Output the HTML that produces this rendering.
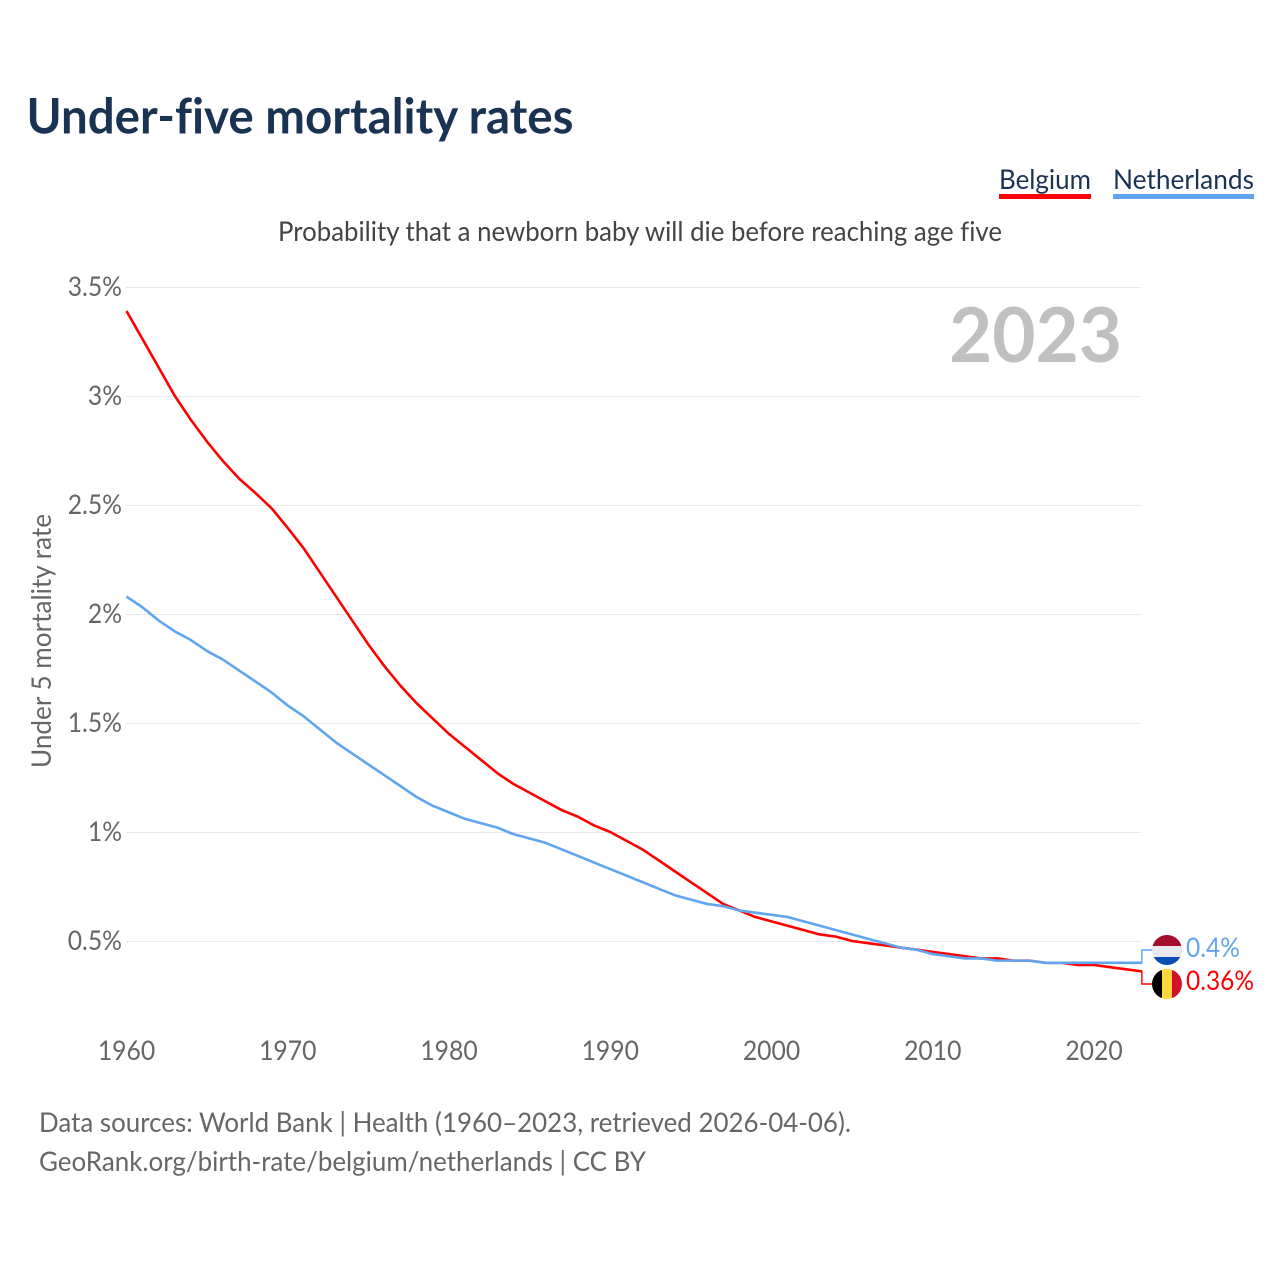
<!DOCTYPE html>
<html>
<head>
<meta charset="utf-8">
<title>Under-five mortality rates</title>
<style>
html,body{margin:0;padding:0;background:#fff}
svg{display:block}
text{font-family:"Lato","Carlito","Liberation Sans",sans-serif;font-variant-ligatures:none}
</style>
</head>
<body>
<svg id="chart" width="1280" height="1280" viewBox="0 0 1280 1280" xmlns="http://www.w3.org/2000/svg">
<defs>
<clipPath id="clip-nl"><circle cx="1167" cy="950" r="15"/></clipPath>
<clipPath id="clip-be"><circle cx="1167" cy="984" r="15"/></clipPath>
</defs>
<text x="26.5" y="133.5" font-size="49" font-weight="700" fill="#1a3352" textLength="547" lengthAdjust="spacingAndGlyphs">Under-five mortality rates</text>
<text x="999" y="189" font-size="27" fill="#1a3352" textLength="92" lengthAdjust="spacingAndGlyphs">Belgium</text>
<rect x="999" y="194" width="92" height="5" fill="#ff0000"/>
<text x="1113" y="189" font-size="27" fill="#1a3352" textLength="141" lengthAdjust="spacingAndGlyphs">Netherlands</text>
<rect x="1113" y="194" width="141" height="5" fill="#60a5ee"/>
<text x="278" y="241" font-size="27" fill="#444444" textLength="724" lengthAdjust="spacingAndGlyphs">Probability that a newborn baby will die before reaching age five</text>
<text transform="translate(51,641) rotate(-90)" text-anchor="middle" font-size="27" fill="#666666" textLength="254" lengthAdjust="spacingAndGlyphs">Under 5 mortality rate</text>
<g id="grid"></g>
<g id="y-labels"></g>
<g id="x-labels"></g>
<text x="1122" y="362" text-anchor="end" font-size="76" font-weight="700" fill="#c0c0c0" textLength="173" lengthAdjust="spacingAndGlyphs">2023</text>
<g id="series"></g>
<g clip-path="url(#clip-nl)">
<rect x="1152" y="935" width="30" height="11" fill="#a50f2d"/>
<rect x="1152" y="946" width="30" height="11" fill="#e8e8ee"/>
<rect x="1152" y="957" width="30" height="8" fill="#0a4fb5"/>
</g>
<g clip-path="url(#clip-be)">
<rect x="1152" y="969" width="10" height="30" fill="#000000"/>
<rect x="1162" y="969" width="10" height="30" fill="#ffd63d"/>
<rect x="1172" y="969" width="10" height="30" fill="#d6102c"/>
</g>
<text x="1186" y="957" font-size="27" fill="#60a5ee" textLength="54" lengthAdjust="spacingAndGlyphs">0.4%</text>
<text x="1186" y="990" font-size="27" fill="#ff0000" textLength="68" lengthAdjust="spacingAndGlyphs">0.36%</text>
<text x="39" y="1132" font-size="27" fill="#666666" textLength="812" lengthAdjust="spacingAndGlyphs">Data sources: World Bank | Health (1960–2023, retrieved 2026-04-06).</text>
<text x="39" y="1171" font-size="27" fill="#666666" textLength="607" lengthAdjust="spacingAndGlyphs">GeoRank.org/birth-rate/belgium/netherlands | CC BY</text>
</svg>
<script>
const startYear = 1960;
const endYear = 2023;
const yTicks = [0.5, 1, 1.5, 2, 2.5, 3, 3.5];
const yTickLabels = ['0.5%', '1%', '1.5%', '2%', '2.5%', '3%', '3.5%'];
const xTicks = [1960, 1970, 1980, 1990, 2000, 2010, 2020];
const belgium = [3.39,3.26,3.13,3.0,2.89,2.79,2.70,2.62,2.555,2.485,2.395,2.30,2.19,2.08,1.97,1.86,1.76,1.67,1.59,1.52,1.45,1.39,1.33,1.27,1.22,1.18,1.14,1.10,1.07,1.03,1.0,0.96,0.92,0.87,0.82,0.77,0.72,0.67,0.64,0.61,0.59,0.57,0.55,0.53,0.52,0.50,0.49,0.48,0.47,0.46,0.45,0.44,0.43,0.42,0.42,0.41,0.41,0.40,0.40,0.39,0.39,0.38,0.37,0.36];
const netherlands = [2.08,2.03,1.97,1.92,1.88,1.83,1.79,1.74,1.69,1.64,1.58,1.53,1.47,1.41,1.36,1.31,1.26,1.21,1.16,1.12,1.09,1.06,1.04,1.02,0.99,0.97,0.95,0.92,0.89,0.86,0.83,0.80,0.77,0.74,0.71,0.69,0.67,0.66,0.64,0.63,0.62,0.61,0.59,0.57,0.55,0.53,0.51,0.49,0.47,0.46,0.44,0.43,0.42,0.42,0.41,0.41,0.41,0.40,0.40,0.40,0.40,0.40,0.40,0.40];

const NS = 'http://www.w3.org/2000/svg';
function xScale(year) { return 126.5 + (year - startYear) * (967.5 / 60); }
function yScale(v) { return 1050 - v * 218; }
function make(parent, tag, attrs, text) {
  const el = document.createElementNS(NS, tag);
  for (const k in attrs) el.setAttribute(k, attrs[k]);
  if (text !== undefined) el.textContent = text;
  parent.appendChild(el);
  return el;
}
function condense(el) {
  el.setAttribute('textLength', (el.getComputedTextLength() * 0.915).toFixed(2));
  el.setAttribute('lengthAdjust', 'spacingAndGlyphs');
}
const gridG = document.getElementById('grid');
const yLabG = document.getElementById('y-labels');
const xLabG = document.getElementById('x-labels');
const serG = document.getElementById('series');

yTicks.forEach(function (t, i) {
  const line = make(gridG, 'line', {x1: 126, x2: 1141, y1: yScale(t) + 0.5, y2: yScale(t) + 0.5, stroke: '#e8e8e8', 'stroke-width': 1});
  
  
  const lab = make(yLabG, 'text', {x: 122, y: yScale(t) + 9, 'text-anchor': 'end', 'font-size': 27, fill: '#666666'}, yTickLabels[i]);
  
  
  condense(lab);
});
xTicks.forEach(function (t) {
  const lab = make(xLabG, 'text', {x: xScale(t), y: 1060, 'text-anchor': 'middle', 'font-size': 27, fill: '#666666'}, String(t));
  
  
  condense(lab);
});
function linePoints(values) {
  return values.map(function (v, i) { return xScale(startYear + i).toFixed(2) + ',' + yScale(v).toFixed(2); }).join(' ');
}
const beLine = make(serG, 'polyline', {points: linePoints(belgium), fill: 'none', stroke: '#ff0000', 'stroke-width': 2.6, 'stroke-linejoin': 'round'});


const nlLine = make(serG, 'polyline', {points: linePoints(netherlands), fill: 'none', stroke: '#60a5ee', 'stroke-width': 2.6, 'stroke-linejoin': 'round'});



const endX = xScale(endYear) - 0.5;
const beEnd = yScale(belgium[belgium.length - 1]);
const nlEnd = yScale(netherlands[netherlands.length - 1]);
const beConn = make(serG, 'path', {d: 'M' + endX + ' ' + beEnd + 'V984H1153', fill: 'none', stroke: '#ff0000', 'stroke-width': 1.4});


const nlConn = make(serG, 'path', {d: 'M' + endX + ' ' + nlEnd + 'V950H1153', fill: 'none', stroke: '#60a5ee', 'stroke-width': 1.4});


</script>
</body>
</html>
